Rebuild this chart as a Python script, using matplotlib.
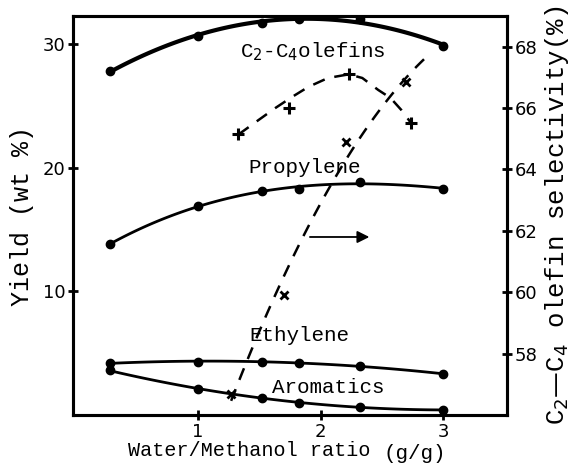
import numpy as np
import matplotlib.pyplot as plt

# valores
ratio = [0.28, 1.0, 1.52, 1.82, 2.32, 3.0]
c2c4_olefins = [27.8, 30.6, 31.7, 32.0, 32.0, 29.8]
propylene = [13.8, 16.9, 18.1, 18.3, 18.8, 18.3]
ethylene = [4.2, 4.3, 4.3, 4.2, 4.0, 3.3]
aromatics = [3.6, 2.1, 1.4, 1.0, 0.65, 0.4]

# selectividad (eje derecho), dos series a trazos
sel_a_x = [1.33, 1.74, 2.23, 2.74]
sel_a = [65.14, 65.99, 67.1, 65.5]
# trazo de la curva a trazos tal como se lee en la figura
traza_a_x = [1.33, 1.49, 1.63, 1.77, 1.90, 2.06, 2.23, 2.34, 2.47, 2.57, 2.66, 2.74]
traza_a = [65.14, 65.6, 66.0, 66.37, 66.69, 66.98, 67.1, 66.98, 66.59, 66.33, 65.93, 65.5]
sel_b_x = [1.27, 1.70, 2.21, 2.70]
sel_b = [56.7, 59.9, 64.9, 66.85]
sel_b_end = (2.88, 67.7)

mono = 'Liberation Mono'

fig = plt.figure(figsize=(5.72, 4.66), dpi=100)
ax = fig.add_axes([0.1276, 0.1094, 0.7587, 0.8563])
ax2 = ax.twinx()


def curva(a, x, y, deg=2, **kw):
    p = np.polyfit(x, y, deg)
    xs = np.linspace(min(x), max(x), 100)
    a.plot(xs, np.polyval(p, xs), **kw)


curva(ax, ratio, c2c4_olefins, color='k', lw=3)
curva(ax, ratio, propylene, 3, color='k', lw=2)
curva(ax, ratio, ethylene, color='k', lw=2)
curva(ax, ratio, aromatics, color='k', lw=2)
for serie in [c2c4_olefins, propylene, ethylene, aromatics]:
    ax.plot(ratio, serie, 'o', color='k', ms=6)

ax2.plot(traza_a_x, traza_a, color='k', lw=1.8, ls=(0, (5, 4)))
ax2.plot(sel_a_x, sel_a, '+', color='k', ms=9, mew=2.2)
bx = sel_b_x + [sel_b_end[0]]
by = sel_b + [sel_b_end[1]]
curva(ax2, bx, by, color='k', lw=1.8, ls=(0, (5, 4)))
ax2.plot(sel_b_x, sel_b, 'x', color='k', ms=6, mew=2)
ax2.annotate('', xy=(2.42, 61.8), xytext=(1.89, 61.8),
             arrowprops=dict(arrowstyle='-|>', color='k', lw=1.3,
                             mutation_scale=18))

ax.set_xlim(-0.02, 3.52)
ax.set_ylim(0, 32.25)
ax2.set_ylim(56, 69.0)
ax.set_xticks([1, 2, 3])
ax.set_yticks([10, 20, 30])
ax2.set_yticks([58, 60, 62, 64, 66, 68])
ax.tick_params(direction='inout', length=7, width=2, labelsize=13, pad=2)
ax2.tick_params(direction='inout', length=7, width=2, labelsize=13, pad=2)
for a in (ax, ax2):
    for s in a.spines.values():
        s.set_linewidth(2.2)

ax.text(1.34, 29.4, 'C$_2$-C$_4$olefins', family=mono, fontsize=15, va='center')
ax.text(1.41, 20.0, 'Propylene', family=mono, fontsize=15, va='center')
ax.text(1.42, 6.4, 'Ethylene', family=mono, fontsize=15, va='center')
ax.text(1.60, 2.2, 'Aromatics', family=mono, fontsize=15, va='center')

ax.set_ylabel('Yield (wt %)', family=mono, fontsize=18, labelpad=6)
ax2.set_ylabel('C$_2$\u2014C$_4$ olefin selectivity(%)', family=mono, fontsize=18.5, labelpad=4)
ax.text(0.127, -0.09, 'Water/Methanol ratio', family=mono, fontsize=14.5,
        va='center', transform=ax.transAxes)
ax.text(0.715, -0.097, '(g/g)', family=mono, fontsize=15,
        va='center', transform=ax.transAxes)

plt.savefig('out.png', dpi=100)
